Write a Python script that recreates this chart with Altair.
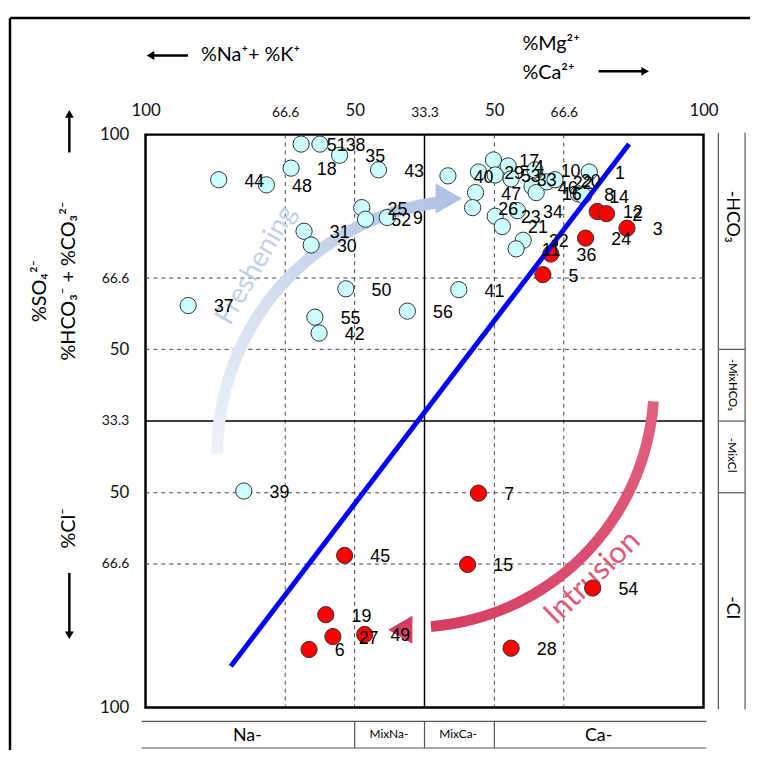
import altair as alt
import pandas as pd

# ---------------- data (signed %: x<0 Na+K side, x>0 Ca+Mg side; y>0 HCO3 side, y<0 Cl side) ----
cyan_ids = ["44", "48", "18", "51", "38", "35", "43", "25", "52", "9",
            "31", "30", "37", "50", "55", "42", "56", "39", "40", "41",
            "17", "4", "29", "53", "33", "10", "46", "16", "22", "20",
            "1", "8", "14", "47", "26", "23", "34", "21", "32", "11"]
cyan_x = [-49.2, -37.8, -31.9, -29.5, -25.0, -20.3, -11.0, -15.0, -14.1, -8.9,
          -28.8, -27.1, -56.5, -18.8, -26.2, -25.2, -4.1, -43.2, 5.6, 8.2,
          16.5, 20.0, 12.9, 16.9, 20.7, 26.4, 25.7, 26.7, 29.3, 31.2,
          39.4, 36.8, 38.0, 12.2, 11.5, 16.9, 22.2, 18.6, 23.6, 21.9]
cyan_y = [56.2, 55.0, 58.9, 64.5, 64.5, 61.9, 58.5, 49.7, 47.0, 47.4,
          44.2, 41.0, 26.9, 30.8, 24.2, 20.5, 25.6, -16.3, 57.1, 30.6,
          60.8, 59.4, 58.0, 57.3, 56.4, 58.5, 54.6, 53.2, 55.7, 56.2,
          58.0, 52.9, 52.5, 53.2, 49.7, 47.7, 49.0, 45.3, 42.1, 40.1]
red_ids = ["12", "2", "3", "24", "36", "5", "7", "15", "54", "28", "45", "19", "27", "49", "6"]
red_x = [41.3, 43.5, 48.4, 38.5, 30.2, 28.3, 12.9, 10.3, 40.2, 20.7, -19.1, -23.6, -21.9, -14.3, -27.6]
red_y = [48.8, 48.3, 44.9, 42.6, 38.9, 34.1, -16.8, -33.4, -38.9, -52.9, -31.3, -45.1, -50.2, -49.7, -53.2]

mix_x = [-46.3, 48.9]
mix_y = [-57.1, 64.5]

grid_dashed = [-33.3, -16.7, 16.7, 33.3]
grid_solid = [0.0]
tick_values = [-66.7, -33.3, -16.7, 0.0, 16.7, 33.3, 66.7]
facies_div = [-16.7, 0.0, 16.7]

fresh_center = ([11.0], [-7.6])
fresh_head = ([5.8], [51.8])
intr_center = ([-3.2], [8.5])
intr_head = ([-5.8], [-48.6])

# ---------------- scales / axes ----------------
W, H = 564, 579
sx = alt.Scale(domain=[-66.7, 66.7], nice=False, zero=False)
sy = alt.Scale(domain=[-66.7, 66.7], nice=False, zero=False)
label_expr = ("abs(datum.value) > 60 ? '100' : abs(datum.value) > 30 ? '66.6' : "
              "abs(datum.value) > 10 ? '50' : '33.3'")
small_test = "(abs(datum.value) > 30 && abs(datum.value) < 60) || abs(datum.value) < 1"
fs_cond = {"condition": {"test": small_test, "value": 14}, "value": 17}
ax_x = alt.Axis(orient="top", values=tick_values, labelExpr=label_expr, ticks=False,
                domain=False, grid=False, title=None, labelFont="Lato",
                labelFontSize=fs_cond, labelPadding=15, labelFlush=False,
                labelOverlap=False, labelColor="#111")
ax_y = alt.Axis(orient="left", values=tick_values, labelExpr=label_expr, ticks=False,
                domain=False, grid=False, title=None, labelFont="Lato",
                labelFontSize=fs_cond, labelPadding=17, labelFlush=False,
                labelOverlap=False, labelColor="#111")


def X():
    return alt.X("x:Q", scale=sx, axis=ax_x)


def Y():
    return alt.Y("y:Q", scale=sy, axis=ax_y)


one = pd.DataFrame({"a": [0]})
layers = []

# grid
layers.append(alt.Chart(pd.DataFrame({"x": grid_dashed})).mark_rule(
    strokeDash=[4, 4], color="#444", strokeWidth=1).encode(x=X()))
layers.append(alt.Chart(pd.DataFrame({"y": grid_dashed})).mark_rule(
    strokeDash=[4, 4], color="#444", strokeWidth=1).encode(y=Y()))
layers.append(alt.Chart(pd.DataFrame({"x": grid_solid})).mark_rule(
    color="black", strokeWidth=1.5).encode(x=X()))
layers.append(alt.Chart(pd.DataFrame({"y": grid_solid})).mark_rule(
    color="black", strokeWidth=1.5).encode(y=Y()))

# freshening arc + head
fresh_grad = alt.Gradient(gradient="linear",
                          stops=[alt.GradientStop(color="#eef2f9", offset=0),
                                 alt.GradientStop(color="#b2c4e4", offset=1)],
                          x1=0, x2=1, y1=1, y2=0)
layers.append(alt.Chart(pd.DataFrame({"x": fresh_center[0], "y": fresh_center[1]})).mark_arc(
    radius=262, radius2=250, theta=4.712, theta2=6.15, color=fresh_grad).encode(x=X(), y=Y()))
layers.append(alt.Chart(pd.DataFrame({"x": fresh_head[0], "y": fresh_head[1]})).mark_point(
    shape="triangle-right", filled=True, size=950, color="#b2c4e4", opacity=1).encode(x=X(), y=Y()))

# intrusion arc + head
intr_grad = alt.Gradient(gradient="linear",
                         stops=[alt.GradientStop(color="#e0607f", offset=0),
                                alt.GradientStop(color="#d63d63", offset=1)],
                         x1=1, x2=0, y1=0, y2=1)
layers.append(alt.Chart(pd.DataFrame({"x": intr_center[0], "y": intr_center[1]})).mark_arc(
    radius=251, radius2=240, theta=1.64, theta2=3.06, color=intr_grad).encode(x=X(), y=Y()))
layers.append(alt.Chart(pd.DataFrame({"x": intr_head[0], "y": intr_head[1]})).mark_point(
    shape="triangle-left", filled=True, size=800, color="#d63d63", opacity=1).encode(x=X(), y=Y()))


def txt(s, px, py, size, angle=0, align="center", font="Lato", color="black", baseline="middle"):
    return alt.Chart(one).mark_text(text=s, fontSize=size, angle=angle, align=align,
                                    font=font, color=color, baseline=baseline).encode(
        x=alt.value(px), y=alt.value(py))


layers.append(txt("Freshening", 112, 132, 28, angle=300, color="#c3d0e9"))
layers.append(txt("Intrusion", 452, 448, 31, angle=316, color="#de5a7d"))

# points
pts = pd.DataFrame({
    "x": cyan_x + red_x,
    "y": cyan_y + red_y,
    "id": cyan_ids + red_ids,
    "grp": ["c"] * len(cyan_ids) + ["r"] * len(red_ids),
})
layers.append(alt.Chart(pts).mark_point(filled=True, shape="circle", size=270, stroke="#333",
                                        strokeWidth=1, opacity=1).encode(
    x=X(), y=Y(),
    fill=alt.Fill("grp:N", scale=alt.Scale(domain=["c", "r"], range=["#ccffff", "#ff0000"]),
                  legend=None)))

# mixing line
layers.append(alt.Chart(pd.DataFrame({"x": mix_x, "y": mix_y})).mark_line(
    color="#0000ff", strokeWidth=5, strokeCap="butt").encode(x=X(), y=Y()))

# labels
layers.append(alt.Chart(pts).mark_text(align="left", baseline="middle", dx=26, dy=2, fontSize=18,
                                       font="Liberation Sans", color="black").encode(
    x=X(), y=Y(), text="id:N"))


def line(x1, y1, x2, y2, w=1.5, color="black"):
    return alt.Chart(one).mark_rule(strokeWidth=w, color=color).encode(
        x=alt.value(x1), y=alt.value(y1), x2=alt.value(x2), y2=alt.value(y2))


def tri(px, py, shape, size):
    return alt.Chart(one).mark_point(shape=shape, filled=True, size=size, color="black",
                                     opacity=1).encode(x=alt.value(px), y=alt.value(py))


# outer frame
layers.append(line(-137, -118, 620, -118, 2.5))
layers.append(line(-137, -118, -137, 640, 2.5))

# top titles
layers.append(line(8, -80, 43, -80, 2.5))
layers.append(tri(5, -80, "triangle-left", 80))
layers.append(txt("%Na⁺+ %K⁺", 56, -80, 20, align="left"))
layers.append(txt("%Mg²⁺", 381, -92, 20, align="left"))
layers.append(txt("%Ca²⁺", 381, -62, 20, align="left"))
layers.append(line(458, -64, 502, -64, 2.5))
layers.append(tri(505, -64, "triangle-right", 80))

# left titles
layers.append(line(-77, 18, -77, -18, 2.5))
layers.append(tri(-77, -21, "triangle-up", 80))
layers.append(txt("%SO₄²⁻", -107, 158, 20, angle=270))
layers.append(txt("%HCO₃⁻ + %CO₃²⁻", -77, 148, 20, angle=270))
layers.append(txt("%Cl⁻", -77, 398, 20, angle=270))
layers.append(line(-77, 443, -77, 503, 2.5))
layers.append(tri(-77, 506, "triangle-down", 80))

# bottom facies row
layers.append(line(-4, 593, 567, 593, 1.2, "#555"))
layers.append(line(-4, 620, 567, 620, 1.2, "#555"))
layers.append(alt.Chart(pd.DataFrame({"x": facies_div})).mark_rule(color="#555", strokeWidth=1.2).encode(
    x=X(), y=alt.value(593), y2=alt.value(620)))
layers.append(txt("Na-", 103, 608, 18))
layers.append(txt("MixNa-", 246, 606, 12))
layers.append(txt("MixCa-", 316, 606, 12))
layers.append(txt("Ca-", 458, 608, 18))

# right facies column
layers.append(line(579, -2, 579, 581, 1.2, "#555"))
layers.append(line(606, -2, 606, 581, 1.2, "#555"))
layers.append(alt.Chart(pd.DataFrame({"y": facies_div})).mark_rule(color="#555", strokeWidth=1.2).encode(
    y=Y(), x=alt.value(579), x2=alt.value(606)))
layers.append(txt("-HCO₃", 593, 83, 18, angle=90))
layers.append(txt("-MixHCO₃", 593, 253, 11.5, angle=90))
layers.append(txt("-MixCl", 593, 324, 12, angle=90))
layers.append(txt("-Cl", 593, 478, 18, angle=90))

chart = alt.layer(*layers).properties(
    width=W, height=H, autosize="none",
    padding={"left": 139, "top": 124, "right": 47, "bottom": 39},
).configure_view(stroke="black", strokeWidth=2.5)

chart.save("out.html", embed_options={"renderer": "svg", "actions": False})
